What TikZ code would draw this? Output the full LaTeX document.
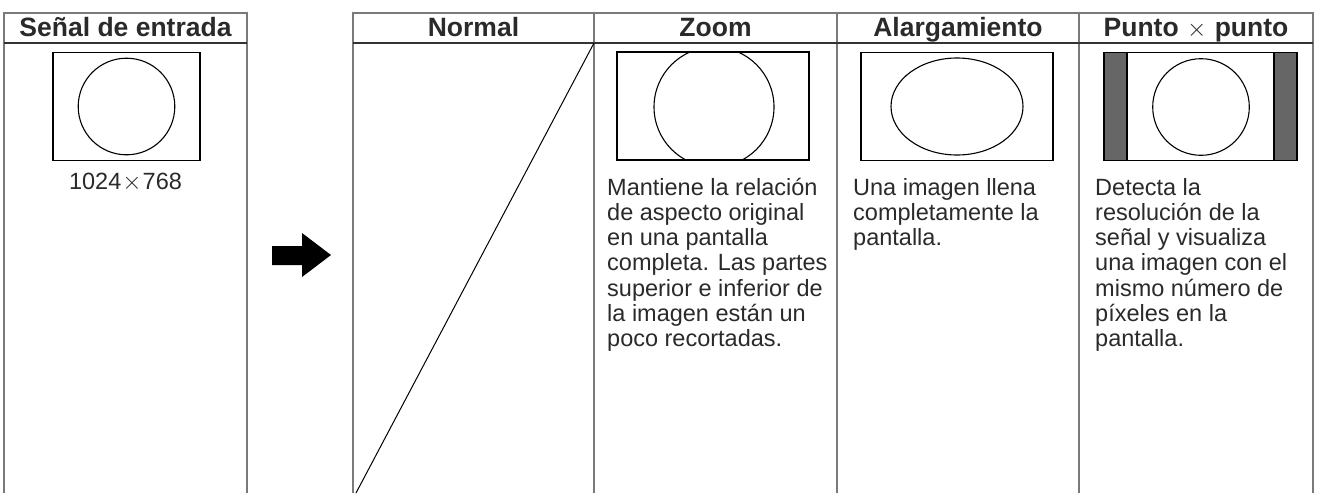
\documentclass[tikz,border=0pt]{standalone}
\usepackage{fontspec}
\setmainfont{Liberation Sans}
\usetikzlibrary{shapes.geometric}
\definecolor{rule}{HTML}{7A7A7A}
\definecolor{hline}{HTML}{333333}
\definecolor{txt}{HTML}{2A2A2A}
\definecolor{bar}{HTML}{666666}
\begin{document}
\begin{tikzpicture}[x=1pt,y=-1pt,
  border/.style={draw=rule, line width=1.3pt},
  headrule/.style={draw=hline, line width=1.3pt},
  head/.style={font=\fontsize{26.5}{30}\selectfont\bfseries, text=txt, inner sep=0pt, anchor=base},
  body/.style={font=\fontsize{23.5}{25.2}\selectfont, text=txt, inner sep=0pt, anchor=north west, align=left},
  frame/.style={draw=black, line width=1.4pt, inner sep=0pt, minimum width=#1, minimum height=108pt},
  rnd/.style={draw=black, line width=1.1pt, circle, inner sep=0pt, minimum size=#1}]
\useasboundingbox (0,0) rectangle (1321,493);
% left table
\coordinate (lt1) at (4,13);   \coordinate (lb1) at (4,493);
\coordinate (lt2) at (247,13); \coordinate (lb2) at (247,493);
\coordinate (lh1) at (4,43);   \coordinate (lh2) at (247,43);
\draw[border] (lb1) -- (lt1) -- (lt2) -- (lb2);
\draw[headrule] (lh1) -- (lh2);
\node[head] (hsenal) at (125.5,36) {Señal de entrada};
\node[frame=147pt] (inimg) at (126.5,106.5) {};
\node[rnd=96.6pt] (incirc) at (inimg.center) {};
\node[font=\fontsize{23.5}{25.2}\selectfont, text=txt, inner sep=0pt, anchor=base] (res) at (125.5,189) {1024\kern1pt{\fontsize{29}{29}\selectfont$\times$}\kern1pt{}768};
% arrow
\fill[black] (272,246) -- (302,246) -- (302,233) -- (331,255) -- (302,277) -- (302,265) -- (272,265) -- cycle;
% right table
\foreach \n/\x in {a/353,b/594,c/837,d/1079,e/1313}{
  \coordinate (rt\n) at (\x,13);
  \coordinate (rb\n) at (\x,493);
}
\draw[border] (rba) -- (rta) -- (rte) -- (rbe);
\foreach \n in {b,c,d}{ \draw[border] (rt\n) -- (rb\n); }
\coordinate (rh1) at (353,43); \coordinate (rh2) at (1313,43);
\draw[headrule] (rh1) -- (rh2);
\node[head] (hnormal) at (473.5,36) {Normal};
\node[head] (hzoom) at (715.5,36) {Zoom};
\node[head] (halarg) at (958,36) {Alargamiento};
\node[head] (hpunto) at (1196,36) {Punto \kern1pt{\fontsize{32}{32}\selectfont$\times$}\kern1pt{} punto};
% Normal: diagonal
\coordinate (dtop) at (594,43);
\coordinate (dbot) at (356,493);
\draw[black, line width=1pt] (dtop) -- (dbot);
% Zoom
\node[frame=192pt] (zimg) at (713,106) {};
\begin{scope}
  \clip (617,52) rectangle (809,160);
  \node[rnd=120pt] (zcirc) at (714,107) {};
\end{scope}
\node[body] (tzoom) at (607,177.4) {\strut Mantiene la relación\\de aspecto original\\en una pantalla\\completa. Las partes\\superior e inferior de\\la imagen están un\\poco recortadas.};
% Alargamiento
\node[frame=192pt] (aimg) at (957,106.5) {};
\node[draw=black, line width=1.1pt, ellipse, inner sep=0pt, minimum width=132pt, minimum height=97pt] (aell) at (957,106.5) {};
\node[body] (talarg) at (853,177.4) {\strut Una imagen llena\\completamente la\\pantalla.};
% Punto x punto
\node[frame=193pt] (pimg) at (1200.5,106.5) {};
\node[draw=black, line width=1.2pt, fill=bar, inner sep=0pt, minimum width=23pt, minimum height=108pt] (pbarl) at (1115.5,106.5) {};
\node[draw=black, line width=1.2pt, fill=bar, inner sep=0pt, minimum width=23pt, minimum height=108pt] (pbarr) at (1285.5,106.5) {};
\node[rnd=96.6pt] (pcirc) at (1201,107) {};
\node[body] (tpunto) at (1095,177.4) {\strut Detecta la\\resolución de la\\señal y visualiza\\una imagen con el\\mismo número de\\píxeles en la\\pantalla.};
\end{tikzpicture}
\end{document}
